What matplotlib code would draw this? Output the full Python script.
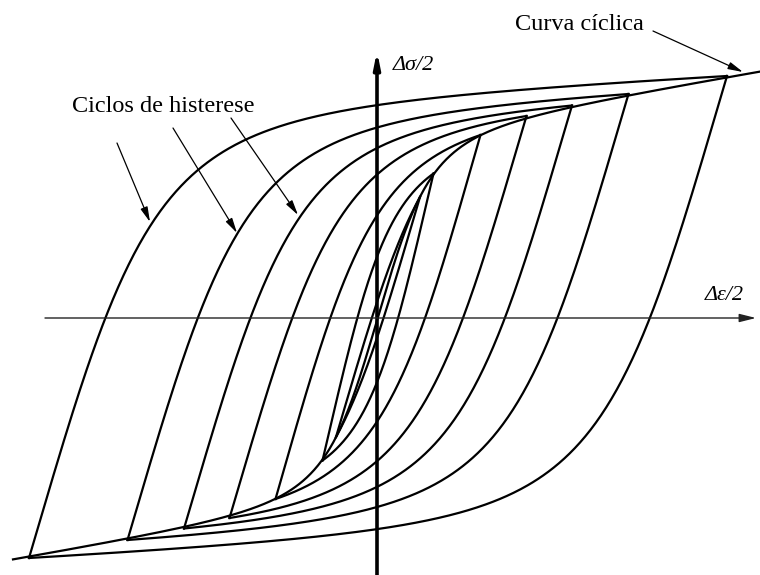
import numpy as np
import matplotlib.pyplot as plt

plt.rcParams['font.family'] = ['Liberation Serif', 'DejaVu Serif']

# amplitudes of the stabilised hysteresis loops (drawing units)
eps_amp = [349, 250.5, 194, 148.5, 102.5, 55.5, 42]
sig_amp = [241, 223, 211.5, 201, 182, 143.5, 120]
# initial (elastic) slope of each loop's branches
br_E = [3.4, 3.4, 3.4, 3.4, 3.5, 4.3, 3.4]

# cyclic stress-strain curve (Menegotto-Pinto form)
E = 3.4
cyc_sy = 191
cyc_b = 0.05
cyc_R = 2.28
cyc_lo, cyc_hi = -365, 390

# shape of the loop branches
br_b = 0.015
br_R = 2.6


def mp(eps, E0, sy, b, R):
    x = np.abs(eps) / (sy / E0)
    s = b * x + (1 - b) * x / (1 + x**R) ** (1 / R)
    return np.sign(eps) * s * sy


def fit_sy(d_eps, d_sig, E0):
    # yield stress of a branch that runs from one tip to the other
    lo, hi = 1.0, 5000.0
    for _ in range(80):
        mid = 0.5 * (lo + hi)
        if mp(d_eps, E0, mid, br_b, br_R) < d_sig:
            lo = mid
        else:
            hi = mid
    return 0.5 * (lo + hi)


fig = plt.figure(figsize=(7.6, 5.75), dpi=100)
ax = fig.add_axes([0, 0, 1, 1])
ax.set_xlim(-378, 382)
ax.set_ylim(-258, 317)
ax.axis('off')

lw = 1.6
for ea, sa, e0 in zip(eps_amp, sig_amp, br_E):
    sy = fit_sy(2 * ea, 2 * sa, e0)
    de = np.linspace(0, 2 * ea, 400)
    ds = mp(de, e0, sy, br_b, br_R)
    ax.plot(-ea + de, -sa + ds, color='k', lw=lw)   # loading branch
    ax.plot(ea - de, sa - ds, color='k', lw=lw)     # unloading branch

e_cyc = np.linspace(cyc_lo, cyc_hi, 600)
ax.plot(e_cyc, mp(e_cyc, E, cyc_sy, cyc_b, cyc_R), color='k', lw=lw)

# coordinate axes
ax.annotate('', xy=(-1, 266), xytext=(-1, -260),
            arrowprops=dict(arrowstyle='-|>,head_length=0.9,head_width=0.18',
                            color='k', lw=2.6, mutation_scale=10,
                            shrinkA=0, shrinkB=0))
ax.annotate('', xy=(378, -1), xytext=(-333, -1),
            arrowprops=dict(arrowstyle='-|>,head_length=1.0,head_width=0.25',
                            color='#222222', lw=1.0, mutation_scale=10,
                            shrinkA=0, shrinkB=0))

ax.text(15, 252, 'Δσ/2', fontsize=16, style='italic', va='center', ha='left')
ax.text(327, 21, 'Δε/2', fontsize=16, style='italic', va='center', ha='left')

ax.text(-306, 211, 'Ciclos de histerese', fontsize=17.5, va='center', ha='left')
ax.text(137, 292, 'Curva cíclica', fontsize=17.5, va='center', ha='left')

arrow = dict(arrowstyle='-|>,head_length=0.9,head_width=0.22', color='k',
             lw=0.9, mutation_scale=10, shrinkA=0, shrinkB=0)
for start, end in [((-261, 174), (-228, 95)),
                   ((-205, 189), (-141, 84)),
                   ((-147, 199), (-80, 102)),
                   ((275, 286), (365, 245))]:
    ax.annotate('', xy=end, xytext=start, arrowprops=arrow)

fig.savefig('out.png', dpi=100)
